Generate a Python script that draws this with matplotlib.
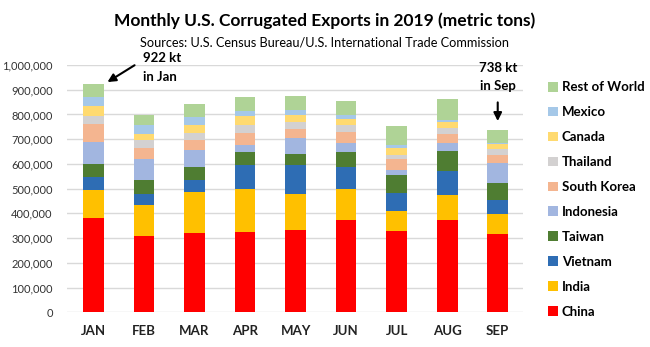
import matplotlib.pyplot as plt
from matplotlib.patches import Patch
import numpy as np

### DATA (thousand metric tons) ###
months = ['JAN', 'FEB', 'MAR', 'APR', 'MAY', 'JUN', 'JUL', 'AUG', 'SEP']
china = [380, 307, 322, 325, 333, 374, 330, 374, 317]
india = [113, 126, 164, 172, 145, 123, 79, 100, 82]
vietnam = [55, 47, 47, 99, 118, 91, 72, 97, 57]
taiwan = [50, 54, 53, 51, 43, 62, 74, 83, 66]
indonesia = [91, 84, 69, 28, 65, 34, 20, 30, 80]
south_korea = [71, 46, 42, 48, 36, 44, 44, 36, 33]
thailand = [34, 31, 27, 34, 31, 31, 17, 24, 24]
canada = [41, 24, 34, 38, 27, 23, 27, 27, 23]
mexico = [36, 37, 32, 20, 20, 17, 12, 6, 4]
rest_of_world = [51, 42, 52, 54, 57, 57, 79, 84, 50]

series = [
    ('China', china, '#FF0000'),
    ('India', india, '#FFC000'),
    ('Vietnam', vietnam, '#2E6DB4'),
    ('Taiwan', taiwan, '#4F7D32'),
    ('Indonesia', indonesia, '#A2B6E0'),
    ('South Korea', south_korea, '#F4B590'),
    ('Thailand', thailand, '#D3D1D1'),
    ('Canada', canada, '#FFDA70'),
    ('Mexico', mexico, '#A5C8E8'),
    ('Rest of World', rest_of_world, '#AFD396'),
]

plt.rcParams['font.family'] = ['Lato', 'DejaVu Sans']

fig = plt.figure(figsize=(6.5, 3.47), dpi=100)
ax = fig.add_axes([0.1026, 0.1, 0.702, 0.7127])

x = np.arange(len(months))
bottom = np.zeros(len(months))
for name, vals, color in series:
    v = np.array(vals) * 1000
    ax.bar(x, v, width=0.41, bottom=bottom, color=color, label=name, zorder=2)
    bottom += v

ax.set_ylim(0, 1000000)
ax.set_xlim(-0.53, 8.5)
ax.set_yticks(np.arange(0, 1000001, 100000))
ax.set_yticklabels([f'{t:,}' for t in range(0, 1000001, 100000)], fontsize=8, color='#333333')
ax.set_xticks(x)
ax.set_xticklabels(months, fontsize=9.5, fontweight='bold', color='#222222')
ax.tick_params(length=0)
ax.tick_params(axis='x', pad=9)
ax.tick_params(axis='y', pad=10)
ax.grid(axis='y', color='#D9D9D9', linewidth=1, zorder=0)
for edge in ['right', 'bottom', 'top', 'left']:
    ax.spines[edge].set_visible(False)

# titles
fig.text(0.5, 0.94, 'Monthly U.S. Corrugated Exports in 2019 (metric tons)',
         ha='center', va='center', fontsize=12.5, fontweight='bold')
fig.text(0.5, 0.877, 'Sources: U.S. Census Bureau/U.S. International Trade Commission',
         ha='center', va='center', fontsize=9.2)

# callouts
ax.annotate('', xy=(0.23, 925000), xytext=(0.86, 1005000),
            arrowprops=dict(arrowstyle='-|>', color='black', lw=1.5, mutation_scale=12),
            annotation_clip=False)
ax.text(1.35, 1030000, '922 kt', ha='center', va='center', fontsize=9.5, fontweight='bold')
ax.text(1.32, 953000, 'in Jan', ha='center', va='center', fontsize=9.5, fontweight='bold')
ax.annotate('', xy=(8, 762000), xytext=(8, 860000),
            arrowprops=dict(arrowstyle='-|>', color='black', lw=1.5, mutation_scale=12),
            annotation_clip=False)
ax.text(8, 989000, '738 kt', ha='center', va='center', fontsize=9.5, fontweight='bold')
ax.text(8, 916000, 'in Sep', ha='center', va='center', fontsize=9.5, fontweight='bold')

# legend, top entry first
handles = [Patch(facecolor=c, label=n) for n, _, c in series][::-1]
leg = fig.legend(handles=handles, loc='upper left', bbox_to_anchor=(0.825, 0.8),
                 frameon=False, handlelength=0.75, handleheight=0.75, handletextpad=0.3,
                 labelspacing=0.98, prop={'weight': 'bold', 'size': 9.5})

fig.savefig('out.png', dpi=100)
plt.close(fig)
